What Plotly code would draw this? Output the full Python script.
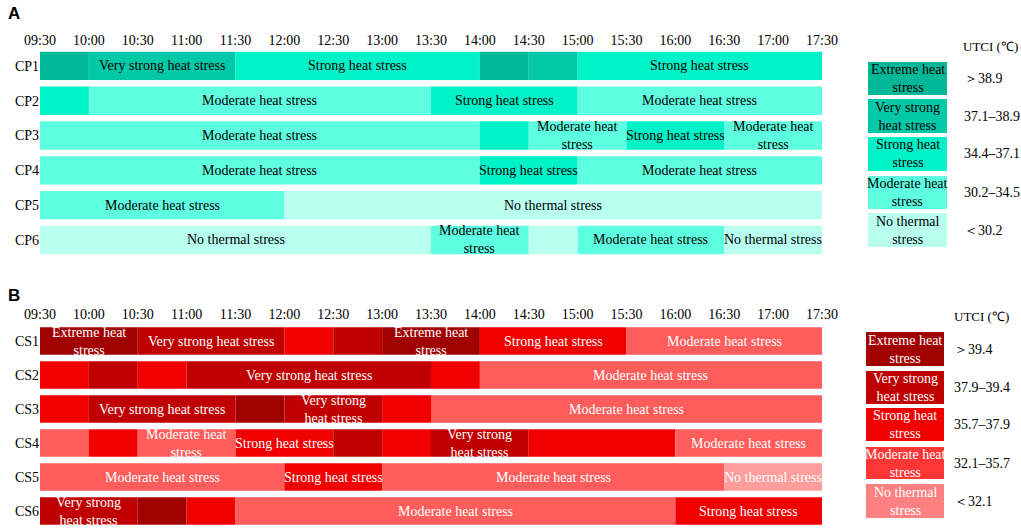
import plotly.graph_objects as go

W, H = 1021, 531

times = ["09:30", "10:00", "10:30", "11:00", "11:30", "12:00", "12:30", "13:00", "13:30",
         "14:00", "14:30", "15:00", "15:30", "16:00", "16:30", "17:00", "17:30"]

# category codes: 0 no thermal, 1 moderate, 2 strong, 3 very strong, 4 extreme
cp_rows = ["CP1", "CP2", "CP3", "CP4", "CP5", "CP6"]
cp_levels = [
    [4, 3, 3, 3, 2, 2, 2, 2, 2, 4, 3, 2, 2, 2, 2, 2],
    [2, 1, 1, 1, 1, 1, 1, 1, 2, 2, 2, 1, 1, 1, 1, 1],
    [1, 1, 1, 1, 1, 1, 1, 1, 1, 2, 1, 1, 2, 2, 1, 1],
    [1, 1, 1, 1, 1, 1, 1, 1, 1, 2, 2, 1, 1, 1, 1, 1],
    [1, 1, 1, 1, 1, 0, 0, 0, 0, 0, 0, 0, 0, 0, 0, 0],
    [0, 0, 0, 0, 0, 0, 0, 0, 1, 1, 0, 1, 1, 1, 0, 0],
]
cs_rows = ["CS1", "CS2", "CS3", "CS4", "CS5", "CS6"]
cs_levels = [
    [4, 4, 3, 3, 3, 2, 3, 4, 4, 2, 2, 2, 1, 1, 1, 1],
    [2, 3, 2, 3, 3, 3, 3, 3, 2, 1, 1, 1, 1, 1, 1, 1],
    [2, 3, 3, 3, 4, 3, 3, 2, 1, 1, 1, 1, 1, 1, 1, 1],
    [1, 2, 1, 1, 2, 2, 3, 2, 3, 3, 2, 2, 2, 1, 1, 1],
    [1, 1, 1, 1, 1, 2, 2, 1, 1, 1, 1, 1, 1, 1, 0, 0],
    [3, 3, 4, 2, 1, 1, 1, 1, 1, 1, 1, 1, 1, 2, 2, 2],
]

# labels: (row, first segment, last segment, text)
cp_labels = [
    (0, 1, 3, "Very strong heat stress"), (0, 4, 8, "Strong heat stress"), (0, 11, 15, "Strong heat stress"),
    (1, 1, 7, "Moderate heat stress"), (1, 8, 10, "Strong heat stress"), (1, 11, 15, "Moderate heat stress"),
    (2, 0, 8, "Moderate heat stress"), (2, 10, 11, "Moderate heat<br>stress"), (2, 12, 13, "Strong heat stress"),
    (2, 14, 15, "Moderate heat<br>stress"),
    (3, 0, 8, "Moderate heat stress"), (3, 9, 10, "Strong heat stress"), (3, 11, 15, "Moderate heat stress"),
    (4, 0, 4, "Moderate heat stress"), (4, 5, 15, "No thermal stress"),
    (5, 0, 7, "No thermal stress"), (5, 8, 9, "Moderate heat<br>stress"), (5, 11, 13, "Moderate heat stress"),
    (5, 14, 15, "No thermal stress"),
]
cs_labels = [
    (0, 0, 1, "Extreme heat<br>stress"), (0, 2, 4, "Very strong heat stress"), (0, 7, 8, "Extreme heat<br>stress"),
    (0, 9, 11, "Strong heat stress"), (0, 12, 15, "Moderate heat stress"),
    (1, 3, 7, "Very strong heat stress"), (1, 9, 15, "Moderate heat stress"),
    (2, 1, 3, "Very strong heat stress"), (2, 5, 6, "Very strong<br>heat stress"), (2, 8, 15, "Moderate heat stress"),
    (3, 2, 3, "Moderate heat<br>stress"), (3, 4, 5, "Strong heat stress"), (3, 8, 9, "Very strong<br>heat stress"),
    (3, 13, 15, "Moderate heat stress"),
    (4, 0, 4, "Moderate heat stress"), (4, 5, 6, "Strong heat stress"), (4, 7, 13, "Moderate heat stress"),
    (4, 14, 15, "No thermal stress"),
    (5, 0, 1, "Very strong<br>heat stress"), (5, 4, 12, "Moderate heat stress"), (5, 13, 15, "Strong heat stress"),
]

legend_names = ["Extreme heat<br>stress", "Very strong<br>heat stress", "Strong heat<br>stress",
                "Moderate heat<br>stress", "No thermal<br>stress"]
cp_ranges = ["＞38.9", "37.1–38.9", "34.4–37.1", "30.2–34.5", "＜30.2"]
cs_ranges = ["＞39.4", "37.9–39.4", "35.7–37.9", "32.1–35.7", "＜32.1"]

# colours indexed by category code 0..4
teal = ["#B8FFF0", "#5EFFE0", "#00F2C8", "#00C9A8", "#00B898"]
red = ["#FF9C9C", "#FF5C5C", "#F00000", "#C00000", "#A00000"]
teal_leg = ["#00B898", "#00C9A8", "#00F2C8", "#5EFFE0", "#B8FFF0"]
red_leg = ["#A00000", "#C00000", "#F00000", "#FF3636", "#FF8080"]

FONT = "Liberation Serif"


def runs(levels):
    out = []
    start = 0
    for i in range(1, len(levels) + 1):
        if i == len(levels) or levels[i] != levels[start]:
            out.append((start, i - start, levels[start]))
            start = i
    return out


fig = go.Figure()


def add_panel(rows, levels, colors, xa, ya):
    ys, xs, bases, cols = [], [], [], []
    for r, lv in zip(rows, levels):
        for s, n, c in runs(lv):
            ys.append(r)
            xs.append(n)
            bases.append(s)
            cols.append(colors[c])
    fig.add_trace(go.Bar(orientation="h", y=ys, x=xs, base=bases, width=0.815,
                         marker=dict(color=cols, line=dict(width=0)),
                         xaxis=xa, yaxis=ya, hoverinfo="skip", showlegend=False))


add_panel(cp_rows, cp_levels, teal, "x", "y")
add_panel(cs_rows, cs_levels, red, "x2", "y2")

ann = []


def add_labels(rows, labels, xr, yr, color):
    for r, a, b, t in labels:
        ann.append(dict(x=(a + b + 1) / 2, y=rows[r], xref=xr, yref=yr, text=t, showarrow=False,
                        font=dict(family=FONT, size=14, color=color), xanchor="center", yanchor="middle"))


add_labels(cp_rows, cp_labels, "x", "y", "black")
add_labels(cs_rows, cs_labels, "x2", "y2", "white")

shapes = []


def px(x):
    return x / W


def py(y):
    return 1 - y / H


def add_legend(boxes, x0, x1, colors, names, ranges, tcol, vx, hx, hy):
    for (y0, y1), c, n, v in zip(boxes, colors, names, ranges):
        shapes.append(dict(type="rect", xref="paper", yref="paper", x0=px(x0), x1=px(x1),
                           y0=py(y1), y1=py(y0), fillcolor=c, line=dict(width=0), layer="below"))
        ann.append(dict(x=px((x0 + x1) / 2), y=py((y0 + y1) / 2), xref="paper", yref="paper", text=n,
                        showarrow=False, font=dict(family=FONT, size=14, color=tcol),
                        xanchor="center", yanchor="middle"))
        ann.append(dict(x=px(vx), y=py((y0 + y1) / 2), xref="paper", yref="paper", text=v,
                        showarrow=False, font=dict(family=FONT, size=14, color="black"),
                        xanchor="left", yanchor="middle"))
    ann.append(dict(x=px(hx), y=py(hy), xref="paper", yref="paper", text="UTCI (℃)", showarrow=False,
                    font=dict(family=FONT, size=13, color="black"), xanchor="left", yanchor="middle"))


add_legend([(62, 95), (99, 133), (137, 171), (176, 209), (213, 247)], 868, 947,
           teal_leg, legend_names, cp_ranges, "black", 962, 961, 46)
add_legend([(332, 366), (371, 404), (408, 441), (447, 479), (484, 518)], 866, 944,
           red_leg, legend_names, cs_ranges, "white", 952, 952, 316)

for letter, y in [("A", 13), ("B", 295)]:
    ann.append(dict(x=px(6), y=py(y), xref="paper", yref="paper", text="<b>%s</b>" % letter, showarrow=False,
                    font=dict(family="Liberation Sans", size=17, color="black"),
                    xanchor="left", yanchor="middle"))

xdom = [px(40), px(822)]
xcommon = dict(range=[0, 16], tickvals=list(range(17)), ticktext=times, side="top", showgrid=False,
               zeroline=False, showline=False, ticks="", tickfont=dict(family=FONT, size=14, color="black"),
               domain=xdom, fixedrange=True, automargin=False)
ycommon = dict(autorange="reversed", showgrid=False, zeroline=False, showline=False, ticks="",
               tickfont=dict(family=FONT, size=14, color="black"), fixedrange=True, type="category",
               automargin=False)

fig.update_layout(
    width=W, height=H, margin=dict(l=0, r=0, t=0, b=0, autoexpand=False),
    paper_bgcolor="white", plot_bgcolor="white", bargap=0.2,
    font=dict(family=FONT),
    xaxis=dict(**xcommon, anchor="y"),
    yaxis=dict(**ycommon, domain=[py(258.5), py(48.5)], anchor="x", categoryorder="array", categoryarray=cp_rows),
    xaxis2=dict(**xcommon, anchor="y2"),
    yaxis2=dict(**ycommon, domain=[py(529.5), py(322.5)], anchor="x2", categoryorder="array", categoryarray=cs_rows),
    annotations=ann, shapes=shapes, showlegend=False,
)

fig.write_html("out.html", config={"displayModeBar": False},
               post_script="document.body.style.margin='0';document.body.style.overflow='hidden';")
